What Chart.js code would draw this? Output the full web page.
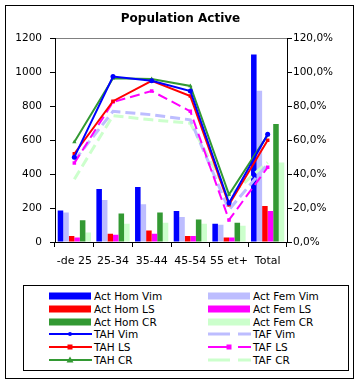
<!DOCTYPE html>
<html>
<head>
<meta charset="utf-8">
<script src="https://cdn.jsdelivr.net/npm/chart.js@4.4.0/dist/chart.umd.min.js"></script>
<style>
    body { margin: 0; background: #fff; font-family: "DejaVu Sans", sans-serif; }
    #cadre { position: absolute; left: 5px; top: 5px; width: 347px; height: 372px; border: 1px solid #000; }
    #zone { position: absolute; left: 0; top: 0; width: 361px; height: 280px; }
    #legende { position: absolute; left: 23px; top: 285px; width: 324px; height: 84px; border: 1px solid #000; background: #fff; }
    .item { position: absolute; height: 12px; font-size: 10.5px; line-height: 12px; white-space: nowrap; }
    .item svg { position: absolute; left: 0; top: 0; }
    .item span { position: absolute; left: 45px; top: 0; }
</style>
</head>
<body>
<div id="cadre"></div>
<div id="zone"><canvas id="graphe" width="361" height="280"></canvas></div>
<div id="legende"></div>
<script>
// categories et valeurs
const categories = ['-de 25', '25-34', '35-44', '45-54', '55 et+', 'Total'];

const actHomVim = [185, 312, 324, 182, 108, 1105];
const actFemVim = [174, 248, 222, 148, 102, 892];
const actHomLS  = [36, 48, 68, 36, 26, 212];
const actFemLS  = [26, 42, 48, 36, 26, 182];
const actHomCR  = [128, 168, 174, 132, 114, 695];
const actFemCR  = [56, 108, 114, 108, 96, 468];

// taux d'activite (%)
const tahVim = [50, 97.5, 95, 89, 23, 63.5];
const tafVim = [48, 77, 75, 72, 19, 46];
const tahLS  = [52, 83, 95, 86, 22, 60];
const tafLS  = [46.5, 82.5, 89, 77, 13, 44];
const tahCR  = [59, 96.5, 96, 92, 28, 63];
const tafCR  = [37, 74.5, 72, 70, 27, 47];

const COULEURS = {
    bleu: '#0000ff',
    lavande: '#bdbdff',
    rouge: '#ff0000',
    magenta: '#ff00ff',
    vert: '#339933',
    vertClair: '#ccffcc'
};

const POLICE = '"DejaVu Sans", sans-serif';

function barre(label, data, couleur) {
    return {
        type: 'bar', label, data, yAxisID: 'y', order: 1,
        backgroundColor: couleur, borderWidth: 0,
        categoryPercentage: 0.86, barPercentage: 1.0
    };
}

function ligne(label, data, couleur, style, tirets, epaisseur) {
    return {
        type: 'line', label, data, yAxisID: 'y1', order: 0,
        borderColor: couleur, backgroundColor: couleur,
        borderWidth: epaisseur, borderDash: tirets, tension: 0,
        pointStyle: style, pointRadius: style ? 2.5 : 0, pointBorderWidth: 0,
        fill: false
    };
}

const datasets = [
    ligne('TAH Vim', tahVim, COULEURS.bleu, 'circle', [], 2),
    ligne('TAH CR', tahCR, COULEURS.vert, 'triangle', [], 2),
    ligne('TAH LS', tahLS, COULEURS.rouge, 'rect', [], 2),
    ligne('TAF LS', tafLS, COULEURS.magenta, 'rect', [10, 5], 2),
    ligne('TAF Vim', tafVim, COULEURS.lavande, false, [10, 5], 3),
    ligne('TAF CR', tafCR, COULEURS.vertClair, false, [10, 5], 3),
    barre('Act Hom Vim', actHomVim, COULEURS.bleu),
    barre('Act Fem Vim', actFemVim, COULEURS.lavande),
    barre('Act Hom LS', actHomLS, COULEURS.rouge),
    barre('Act Fem LS', actFemLS, COULEURS.magenta),
    barre('Act Hom CR', actHomCR, COULEURS.vert),
    barre('Act Fem CR', actFemCR, COULEURS.vertClair)
];

const ctx = document.getElementById('graphe').getContext('2d');
new Chart(ctx, {
    data: { labels: categories, datasets },
    options: {
        responsive: false,
        animation: false,
        layout: { padding: 0 },
        plugins: {
            legend: { display: false },
            tooltip: { enabled: false },
            title: {
                display: true,
                text: 'Population Active',
                color: '#000',
                font: { family: POLICE, size: 12, weight: 'bold' },
                padding: { top: 12, bottom: 12 }
            }
        },
        scales: {
            x: {
                offset: true,
                grid: { offset: true, drawOnChartArea: false, tickLength: 5, tickColor: '#000' },
                border: { display: true, color: '#000', width: 1 },
                ticks: { color: '#000', font: { family: POLICE, size: 11 }, padding: 8, maxRotation: 0, autoSkip: false },
                afterFit: s => { s.height = 38; }
            },
            y: {
                position: 'left',
                min: 0, max: 1200,
                ticks: {
                    stepSize: 200, color: '#000', font: { family: POLICE, size: 10.5 }, padding: 8,
                    callback: v => String(v)
                },
                grid: {
                    color: c => c.tick && c.tick.value === 1200 ? '#808080' : 'rgba(0,0,0,0)',
                    tickColor: '#000', tickLength: 5
                },
                border: { display: true, color: '#000', width: 1 },
                afterFit: s => { s.width = 55; }
            },
            y1: {
                position: 'right',
                min: 0, max: 120,
                ticks: {
                    stepSize: 20, color: '#000', font: { family: POLICE, size: 10.5 }, padding: 1,
                    callback: v => v.toFixed(1).replace('.', ',') + '%'
                },
                grid: { drawOnChartArea: false, tickColor: '#000', tickLength: 5 },
                border: { display: true, color: '#000', width: 1 },
                afterFit: s => { s.width = 74; }
            }
        }
    }
});

// legende en deux colonnes, comme dans le classeur
const colonneGauche = ['Act Hom Vim', 'Act Hom LS', 'Act Hom CR', 'TAH Vim', 'TAH LS', 'TAH CR'];
const colonneDroite = ['Act Fem Vim', 'Act Fem LS', 'Act Fem CR', 'TAF Vim', 'TAF LS', 'TAF CR'];

function symbole(ds) {
    if (ds.type === 'bar') {
        return `<svg width="43" height="12"><rect x="0" y="2.5" width="42" height="7" fill="${ds.backgroundColor}"/></svg>`;
    }
    const dash = ds.borderDash.length ? `stroke-dasharray="22 8"` : '';
    let marque = '';
    if (ds.pointStyle === 'circle') marque = `<circle cx="21" cy="6" r="2" fill="${ds.borderColor}"/>`;
    if (ds.pointStyle === 'rect') marque = `<rect x="18.5" y="3.5" width="5" height="5" fill="${ds.borderColor}"/>`;
    if (ds.pointStyle === 'triangle') marque = `<polygon points="21,2.5 24.5,8.5 17.5,8.5" fill="${ds.borderColor}"/>`;
    return `<svg width="43" height="12"><line x1="0" y1="6" x2="43" y2="6" stroke="${ds.borderColor}" stroke-width="${ds.borderWidth}" ${dash}/>${marque}</svg>`;
}

const legende = document.getElementById('legende');
[colonneGauche, colonneDroite].forEach((col, c) => {
    col.forEach((nom, r) => {
        const ds = datasets.find(d => d.label === nom);
        const el = document.createElement('div');
        el.className = 'item';
        el.style.left = (c === 0 ? 25 : 184) + 'px';
        el.style.top = (4 + r * 12.8) + 'px';
        el.innerHTML = symbole(ds) + `<span>${nom}</span>`;
        legende.appendChild(el);
    });
});
</script>
</body>
</html>
